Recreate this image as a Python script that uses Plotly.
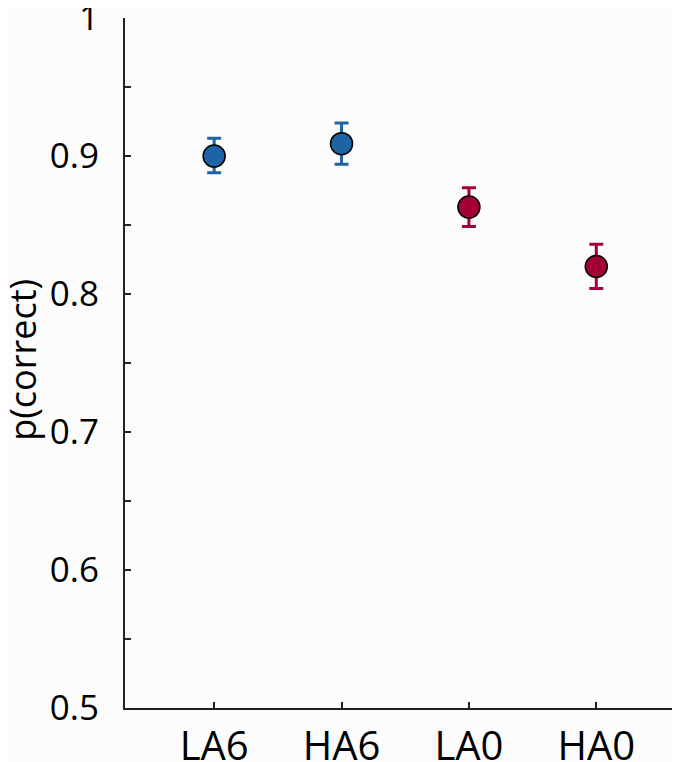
import plotly.graph_objects as go

conditions = ["LA6", "HA6", "LA0", "HA0"]
positions = [1, 2, 3, 4]
p_correct = [0.900, 0.909, 0.863, 0.820]
err_up = [0.013, 0.015, 0.014, 0.016]
err_down = [0.012, 0.015, 0.014, 0.016]
colors = ["#1f63a5", "#1f63a5", "#a3003a", "#a3003a"]

FONT = "Open Sans"

fig = go.Figure()

for i in range(len(conditions)):
    fig.add_trace(
        go.Scatter(
            x=[positions[i]],
            y=[p_correct[i]],
            mode="markers",
            marker=dict(size=22, color=colors[i], line=dict(color="black", width=1.5)),
            error_y=dict(
                type="data",
                symmetric=False,
                array=[err_up[i]],
                arrayminus=[err_down[i]],
                color=colors[i],
                thickness=3,
                width=7,
            ),
            showlegend=False,
        )
    )

fig.update_xaxes(
    range=[0.3, 4.72],
    tickvals=positions,
    ticktext=conditions,
    ticks="inside",
    ticklen=6,
    tickwidth=1.5,
    tickcolor="#222",
    showline=True,
    linecolor="#222",
    linewidth=2,
    showgrid=False,
    zeroline=False,
    tickfont=dict(family=FONT, size=40, color="black"),
    ticklabelstandoff=2,
    ticklabeloverflow="allow",
    automargin=False,
)
fig.update_yaxes(
    range=[0.4999, 1.0001],
    tickvals=[0.5, 0.6, 0.7, 0.8, 0.9, 1.0],
    ticktext=["0.5", "0.6", "0.7", "0.8", "0.9", "1"],
    ticks="inside",
    ticklen=6,
    tickwidth=1.5,
    tickcolor="#222",
    minor=dict(tickvals=[0.55, 0.65, 0.75, 0.85, 0.95], ticks="inside", ticklen=6, tickwidth=1.5, tickcolor="#222"),
    showline=True,
    linecolor="#222",
    linewidth=2,
    showgrid=False,
    zeroline=False,
    tickfont=dict(family=FONT, size=35, color="black"),
    ticklabelstandoff=17,
    ticklabeloverflow="allow",
    automargin=False,
)
fig.add_annotation(
    text="p(correct)",
    textangle=-90,
    xref="paper",
    yref="paper",
    x=-0.182,
    y=0.504,
    xanchor="center",
    yanchor="middle",
    showarrow=False,
    font=dict(family=FONT, size=36, color="black"),
)
fig.update_layout(
    width=680,
    height=762,
    margin=dict(l=117, r=0, t=10, b=62),
    plot_bgcolor="#fcfcfc",
    paper_bgcolor="#fcfcfc",
)

fig.write_html("out.html")
